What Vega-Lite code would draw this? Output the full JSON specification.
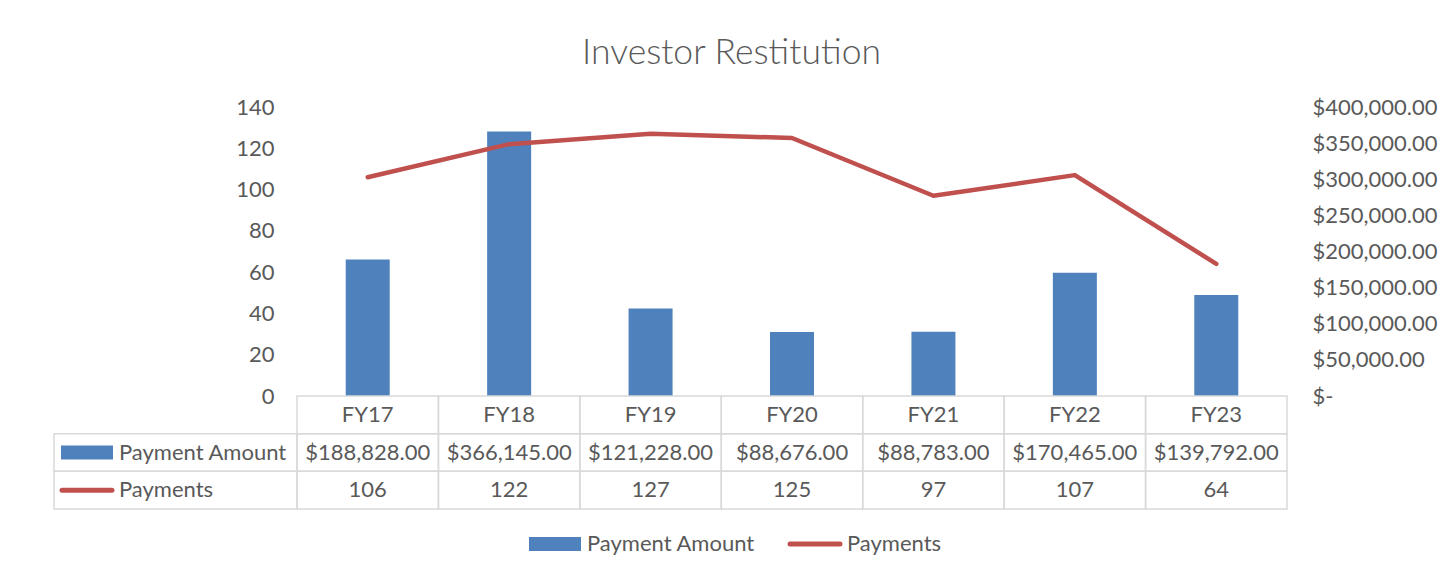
{
  "$schema": "https://vega.github.io/schema/vega-lite/v6.json",
  "padding": {"left": 52, "top": 35, "right": 5, "bottom": 5},
  "background": "white",
  "title": {"text": "Investor Restitution", "font": "Lato", "fontSize": 35.5, "fontWeight": 300, "color": "#595959", "anchor": "middle", "frame": "bounds", "offset": 25, "dx": -13},
  "width": 990,
  "height": 402,
  "datasets": {
    "fy": [
      {"fy": "FY17", "amount": 188828, "payments": 106},
      {"fy": "FY18", "amount": 366145, "payments": 122},
      {"fy": "FY19", "amount": 121228, "payments": 127},
      {"fy": "FY20", "amount": 88676, "payments": 125},
      {"fy": "FY21", "amount": 88783, "payments": 97},
      {"fy": "FY22", "amount": 170465, "payments": 107},
      {"fy": "FY23", "amount": 139792, "payments": 64}
    ],
    "rows": [{"row": "Payment Amount"}, {"row": "Payments"}]
  },
  "data": {"name": "fy"},
  "layer": [
    {
      "mark": {"type": "bar", "size": 44, "color": "#4F81BD"},
      "encoding": {
        "x": {"field": "fy", "type": "nominal", "sort": null, "axis": null, "scale": {"paddingInner": 0, "paddingOuter": 0}},
        "y": {"field": "amount", "type": "quantitative", "scale": {"domain": [0, 400000], "range": [289, 0]},
          "axis": {"orient": "right", "title": null, "values": [0, 50000, 100000, 150000, 200000, 250000, 300000, 350000, 400000],
            "labelExpr": "datum.value === 0 ? '$-' : format(datum.value, '$,.2f')",
            "labelAlign": "left", "labelPadding": 25, "domain": false, "ticks": false, "tickSize": 0, "grid": false,
            "labelFont": "Lato", "labelFontSize": 22, "labelColor": "#595959"}},
        "color": {"datum": "Payment Amount", "type": "nominal",
          "scale": {"domain": ["Payment Amount", "Payments"], "range": ["#4F81BD", "#C0504D"]},
          "legend": {"orient": "none", "legendX": 247, "legendY": 426, "direction": "horizontal", "title": null,
            "labelFont": "Lato", "labelFontSize": 22, "labelColor": "#595959", "labelLimit": 400, "symbolSize": 2704,
            "labelOffset": 21, "columnPadding": 25,
            "encode": {"symbols": {"update": {
              "shape": {"signal": "datum.value === 'Payments' ? 'M-0.96,0H0.96' : 'M-1,-0.27H1V0.27H-1Z'"},
              "size": {"value": 2704},
              "fill": {"signal": "datum.value === 'Payments' ? 'transparent' : '#4F81BD'"},
              "stroke": {"signal": "datum.value === 'Payments' ? '#C0504D' : 'transparent'"},
              "strokeWidth": {"signal": "datum.value === 'Payments' ? 5 : 0"},
              "strokeCap": {"value": "round"},
              "opacity": {"value": 1}
            }}}}}
      }
    },
    {
      "mark": {"type": "line", "strokeWidth": 4.5, "strokeCap": "round", "strokeJoin": "round"},
      "encoding": {
        "x": {"field": "fy", "type": "nominal", "sort": null, "axis": null, "scale": {"paddingInner": 0, "paddingOuter": 0}},
        "y": {"field": "payments", "type": "quantitative", "scale": {"domain": [0, 140], "range": [289, 0]},
          "axis": {"orient": "left", "title": null, "values": [0, 20, 40, 60, 80, 100, 120, 140],
            "labelPadding": 23, "domain": false, "ticks": false, "tickSize": 0, "grid": false,
            "labelFont": "Lato", "labelFontSize": 22, "labelColor": "#595959"}},
        "color": {"datum": "Payments", "type": "nominal"}
      }
    },
    {
      "layer": [
        {
          "encoding": {
            "x": {"field": "fy", "type": "nominal", "sort": null, "axis": null, "scale": {"paddingInner": 0, "paddingOuter": 0}}
          },
          "layer": [
            {
              "mark": {"type": "rect", "filled": false, "color": "#D9D9D9", "strokeWidth": 1.5},
              "encoding": {"y": {"datum": "hdr", "type": "nominal", "scale": {"domain": ["hdr", "Payment Amount", "Payments"], "range": [289, 402], "paddingInner": 0, "paddingOuter": 0}, "axis": null}}
            },
            {
              "mark": {"type": "rect", "filled": false, "color": "#D9D9D9", "strokeWidth": 1.5},
              "encoding": {"y": {"datum": "Payment Amount", "type": "nominal"}}
            },
            {
              "mark": {"type": "rect", "filled": false, "color": "#D9D9D9", "strokeWidth": 1.5},
              "encoding": {"y": {"datum": "Payments", "type": "nominal"}}
            },
            {
              "mark": {"type": "text", "baseline": "middle", "font": "Lato", "fontSize": 22, "color": "#595959"},
              "encoding": {"y": {"datum": "hdr", "type": "nominal"}, "text": {"field": "fy"}}
            },
            {
              "mark": {"type": "text", "baseline": "middle", "font": "Lato", "fontSize": 22, "color": "#595959"},
              "encoding": {"y": {"datum": "Payment Amount", "type": "nominal"}, "text": {"field": "amount", "format": "$,.2f"}}
            },
            {
              "mark": {"type": "text", "baseline": "middle", "font": "Lato", "fontSize": 22, "color": "#595959"},
              "encoding": {"y": {"datum": "Payments", "type": "nominal"}, "text": {"field": "payments"}}
            }
          ]
        },
        {
          "data": {"name": "rows"},
          "layer": [
            {
              "mark": {"type": "rect", "filled": false, "color": "#D9D9D9", "strokeWidth": 1.5},
              "encoding": {
                "x": {"datum": 0, "type": "quantitative", "scale": {"domain": [0, 243], "range": [-243, 0], "nice": false, "zero": false}, "axis": null},
                "x2": {"datum": 243},
                "y": {"field": "row", "type": "nominal"}
              }
            },
            {
              "mark": {"type": "text", "align": "left", "baseline": "middle", "font": "Lato", "fontSize": 22, "color": "#595959"},
              "encoding": {
                "x": {"datum": 65, "type": "quantitative"},
                "y": {"field": "row", "type": "nominal"},
                "text": {"field": "row"}
              }
            },
            {
              "transform": [{"filter": "datum.row === 'Payment Amount'"}],
              "mark": {"type": "point", "shape": "M-1,-0.27H1V0.27H-1Z", "size": 2704, "filled": true, "color": "#4F81BD", "opacity": 1},
              "encoding": {
                "x": {"datum": 33, "type": "quantitative"},
                "y": {"field": "row", "type": "nominal"}
              }
            },
            {
              "transform": [{"filter": "datum.row === 'Payments'"}],
              "mark": {"type": "point", "shape": "M-0.96,0H0.96", "size": 2704, "filled": false, "color": "#C0504D", "strokeWidth": 5, "strokeCap": "round", "opacity": 1},
              "encoding": {
                "x": {"datum": 33, "type": "quantitative"},
                "y": {"field": "row", "type": "nominal"}
              }
            }
          ]
        }
      ],
      "resolve": {"scale": {"x": "independent"}}
    }
  ],
  "resolve": {"scale": {"x": "independent", "y": "independent"}},
  "config": {"view": {"stroke": null}}
}
